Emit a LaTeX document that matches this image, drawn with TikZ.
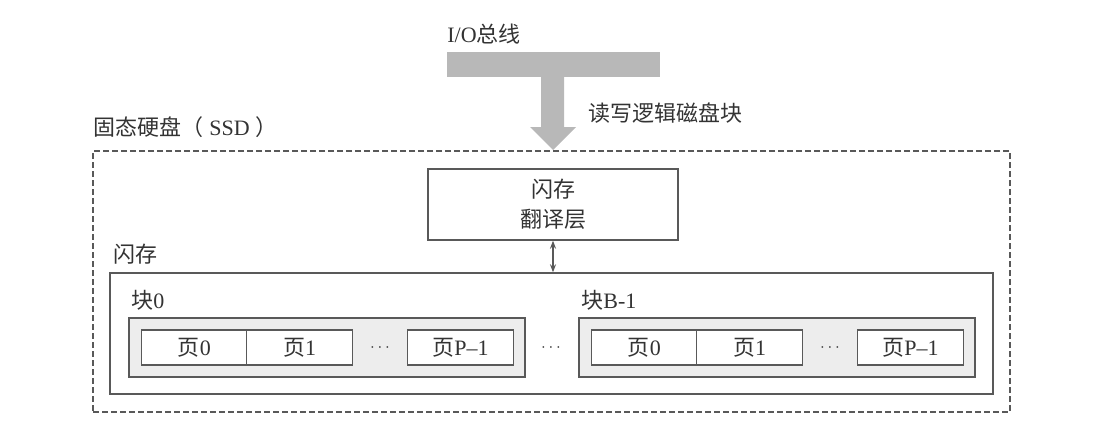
\documentclass[tikz,border=0pt]{standalone}
\usepackage{fontspec}
\setmainfont{Liberation Serif}
\newfontfamily\cjk{Noto Sans CJK SC}
\newcommand{\zh}[1]{{\cjk #1}}
\usetikzlibrary{arrows.meta}

\begin{document}
\begin{tikzpicture}[x=0.5pt, y=-0.5pt,
  every node/.style={font=\fontsize{11}{15}\selectfont, text=black!80},
  box/.style={draw=black!65, line width=0.7pt, inner sep=0pt},
  lab/.style={anchor=west, inner sep=0pt},
  dots/.style={font=\fontsize{8}{8}\selectfont},
  page/.style={box, fill=white, minimum width=52.75pt, minimum height=17.5pt}]
  \useasboundingbox (0,0) rectangle (1118,434);
  % I/O bus and the request arrow
  \node[fill=black!28, inner sep=0pt, minimum width=106.5pt, minimum height=12.5pt] (bus) at (553.5,64.5) {};
  \fill[black!28] (541,77) -- (541,127) -- (530,127) -- (553,150) -- (576,127) -- (564,127) -- (564,77) -- cycle;
  \node[lab] (io) at (447,34) {I/O\zh{总线}};
  \node[lab] (rw) at (588,113) {\zh{读写逻辑磁盘块}};
  % the SSD
  \node[box, dash pattern=on 3pt off 1.5pt, minimum width=458.5pt, minimum height=130.5pt] (ssd) at (551.5,281.5) {};
  \node[lab] (ssdlab) at (93,127) {\zh{固态硬盘（}\hspace{3pt}SSD\hspace{3pt}\zh{）}};
  \node[box, align=center, minimum width=125pt, minimum height=35.5pt] (ftl) at (553,204.5) {\zh{闪存}\\\zh{翻译层}};
  % flash memory with its blocks
  \node[box, minimum width=441.5pt, minimum height=60.5pt] (flash) at (551.5,333.5) {};
  \node[lab] (flashlab) at (113,254) {\zh{闪存}};
  \draw[{Stealth[length=4pt,width=3pt]}-{Stealth[length=4pt,width=3pt]}, black!65, line width=0.6pt]
    (ftl.south) -- (ftl.south |- flash.north);
  \foreach \dx/\n/\t in {0/a/0, 450/b/B-1} {
    \node[box, fill=black!7, minimum width=198pt, minimum height=29.5pt] (blk\n) at (327+\dx,347.5) {};
    \node[lab] (blklab\n) at (131+\dx,300) {\zh{块}\t};
    \node[page] (\n0) at (194.25+\dx,347.5) {\zh{页}0};
    \node[page] (\n1) at (299.5+\dx,347.5) {\zh{页}1};
    \node[dots] (dots\n) at (380+\dx,347.5) {$\cdots$};
    \node[page] (\n P) at (460.5+\dx,347.5) {\zh{页}P--1};
  }
  \node[dots] (dotsmid) at (551,347.5) {$\cdots$};
\end{tikzpicture}
\end{document}
